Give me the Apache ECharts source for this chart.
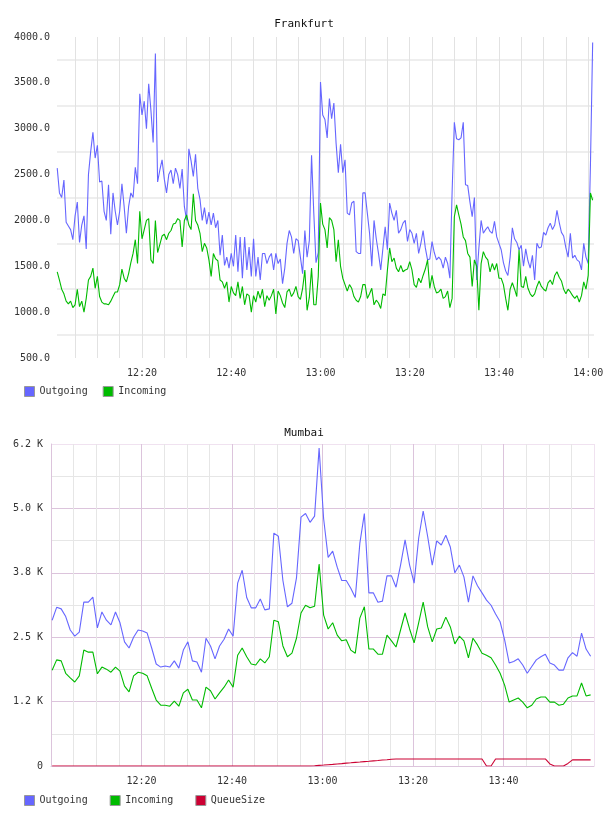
<!DOCTYPE html>
<html><head><meta charset="utf-8">
<script src="https://cdn.jsdelivr.net/npm/echarts@6/dist/echarts.min.js"></script>
<style>html,body{margin:0;padding:0;background:#fff}#c{width:608px;height:816px}</style>
</head><body><div id="c"></div>
<script>
// ---------- Frankfurt (minutes after 12:00) ----------
const fraStart = 1, fraStep = 0.5;
const fraOutgoing = [
2570,2300,2250,2440,1980,1940,1900,1790,2050,2200,
1760,1950,2050,1690,2500,2750,2960,2680,2820,2420,
2430,2100,2000,2390,1850,2300,2100,1950,2100,2400,
2150,1860,2150,2300,2250,2580,2400,3380,3150,3300,
3000,3490,3200,2850,3820,2420,2550,2660,2450,2300,
2500,2550,2400,2570,2500,2350,2560,2150,2000,2780,
2650,2480,2720,2350,2230,2000,2140,1960,2090,1950,
2080,1920,2000,1620,1840,1510,1600,1480,1640,1500,
1840,1440,1820,1370,1820,1460,1710,1390,1800,1390,
1600,1350,1640,1640,1530,1600,1640,1460,1640,1530,
1580,1310,1480,1750,1890,1820,1640,1800,1780,1600,
1420,1890,1600,1780,2710,2080,1540,1650,3510,3150,
3100,2900,3330,3110,3280,2840,2520,2830,2520,2660,
2080,2060,2190,2210,1660,1640,1640,2300,2300,2080,
1860,1500,2000,1800,1640,1460,1700,1930,1680,2190,
2080,2000,2110,1860,1900,1970,2000,1770,1900,1860,
1750,1860,1640,1750,1890,1700,1570,1580,1770,1650,
1570,1600,1570,1480,1600,1530,1370,2310,3070,2890,
2880,2900,3070,2390,2380,2200,2040,2250,1350,1700,
2000,1860,1900,1930,1880,1860,1990,1820,1750,1680,
1540,1450,1400,1600,1920,1800,1760,1680,1730,1500,
1690,1560,1480,1620,1350,1750,1700,1710,1870,1840,
1920,1970,1900,1950,2110,1980,1870,1830,1700,1600,
1860,1590,1620,1570,1550,1460,1750,1600,1530,2600,
3940];
const fraIncoming = [
1440,1350,1250,1200,1120,1090,1120,1050,1080,1250,
1060,1120,1000,1150,1350,1390,1480,1260,1390,1170,
1110,1090,1090,1080,1120,1170,1220,1220,1300,1470,
1370,1330,1420,1540,1640,1790,1530,2100,1800,1900,
2000,2020,1570,1530,2000,1650,1740,1830,1850,1790,
1860,1890,1960,1970,2020,2000,1710,2000,2060,1950,
1900,2290,2000,1950,1860,1660,1750,1700,1570,1390,
1640,1580,1560,1350,1330,1260,1330,1110,1280,1210,
1180,1330,1150,1280,1080,1200,1180,1000,1180,1110,
1230,1150,1250,1060,1180,1130,1180,1250,980,1230,
1180,1100,1050,1220,1250,1170,1210,1280,1170,1140,
1260,1460,1020,1160,1480,1080,1080,1390,2190,1960,
1900,1700,2030,2000,1900,1550,1790,1500,1370,1300,
1230,1300,1260,1170,1130,1110,1170,1300,1300,1150,
1200,1260,1080,1130,1100,1040,1200,1180,1460,1700,
1550,1590,1480,1440,1510,1440,1460,1470,1550,1460,
1300,1270,1370,1320,1400,1470,1570,1260,1400,1280,
1210,1220,1250,1150,1170,1230,1050,1150,2040,2170,
2060,1960,1820,1780,1640,1600,1280,1570,1500,1020,
1530,1660,1600,1570,1440,1530,1460,1530,1370,1370,
1300,1150,1020,1250,1320,1250,1170,1680,1280,1270,
1390,1260,1200,1170,1200,1280,1340,1280,1250,1230,
1320,1350,1300,1400,1440,1380,1340,1250,1200,1250,
1220,1180,1150,1180,1110,1180,1330,1250,1400,2300,
2220];
const fraYTicks = [500,1000,1500,2000,2500,3000,3500,4000];
const fraYLabels = ['500.0','1000.0','1500.0','2000.0','2500.0','3000.0','3500.0','4000.0'];
const fraXTicks = [20,40,60,80,100,120];
const fraXLabels = ['12:20','12:40','13:00','13:20','13:40','14:00'];
const fraGridMinutes = [5,10,15,20,25,30,35,40,45,50,55,60,65,70,75,80,85,90,95,100,105,110,115,120];

// ---------- Mumbai (minutes after 12:00) ----------
const mumStart = 0.25, mumStep = 1;
const mumOutgoing = [
2830,3080,3050,2900,2640,2520,2600,3180,3180,3280,
2680,2990,2830,2740,2990,2780,2410,2290,2500,2640,
2620,2580,2290,1980,1920,1940,1920,2040,1900,2250,
2410,2040,2020,1820,2480,2330,2080,2330,2460,2660,
2520,3550,3800,3270,3070,3070,3240,3030,3050,4520,
4460,3600,3090,3160,3650,4830,4900,4730,4850,6170,
4800,4050,4170,3860,3600,3600,3450,3270,4320,4900,
3360,3360,3180,3200,3690,3690,3470,3900,4390,3900,
3550,4420,4950,4450,3900,4370,4290,4480,4250,3750,
3900,3670,3180,3690,3500,3360,3220,3120,2950,2800,
2450,2000,2030,2080,1960,1800,1930,2060,2120,2170,
2000,1960,1860,1860,2100,2200,2130,2580,2270,2130];
const mumIncoming = [
1860,2060,2040,1800,1710,1630,1750,2250,2210,2210,
1790,1920,1880,1820,1920,1840,1550,1440,1750,1820,
1800,1750,1510,1280,1180,1180,1160,1260,1160,1420,
1490,1280,1280,1130,1530,1460,1300,1420,1530,1670,
1530,2150,2290,2120,1980,1960,2080,2000,2120,2830,
2800,2330,2120,2190,2480,2970,3120,3070,3100,3920,
2930,2660,2780,2540,2430,2450,2250,2190,2870,3090,
2270,2270,2170,2170,2540,2430,2310,2640,2970,2660,
2390,2780,3180,2700,2410,2660,2680,2890,2700,2370,
2520,2430,2100,2480,2350,2190,2150,2100,1960,1800,
1570,1240,1280,1320,1240,1130,1180,1300,1340,1340,
1240,1240,1180,1200,1320,1360,1360,1610,1360,1380];
const mumQueue = [
0,0,0,0,0,0,0,0,0,0,
0,0,0,0,0,0,0,0,0,0,
0,0,0,0,0,0,0,0,0,0,
0,0,0,0,0,0,0,0,0,0,
0,0,0,0,0,0,0,0,0,0,
0,0,0,0,0,0,0,0,5,12,
18,25,32,40,47,55,62,70,77,85,
92,100,107,115,122,130,135,136,136,136,
136,136,136,136,136,136,136,136,136,136,
136,136,136,136,136,136,0,0,136,136,
136,136,136,136,136,136,136,136,136,136,
40,0,0,0,50,118,118,118,118,118];
const mumYTicks = [0,1250,2500,3750,5000,6250];
const mumYLabels = ['0','1.2 K','2.5 K','3.8 K','5.0 K','6.2 K'];
const mumXTicks = [20,40,60,80,100];
const mumXLabels = ['12:20','12:40','13:00','13:20','13:40'];

// ---------- build ----------
const FONT = 'DejaVu Sans Mono';
const TXT = '#333';
const C_OUT = '#6666ff', C_IN = '#00bb00', C_Q = '#cc0033';
const pairs = (start, step, vals) => vals.map((v, i) => [start + step * i, v]);
const lab = (ticks, labels) => v => {
  const k = ticks.findIndex(t => Math.abs(t - v) < 1e-6);
  return k < 0 ? '' : labels[k];
};
const axisFont = {fontFamily: FONT, fontSize: 10, color: TXT};

// split line colour cycles (major / minor)
const MAJ = '#dcc4dc', MIN = '#e6e6e6', EDGE = '#f0e2f0';
const mumXSplit = [];
for (let i = 0; i <= 24; i++) mumXSplit.push(i === 24 ? EDGE : (i % 4 === 0 ? MAJ : MIN));
const mumYSplit = [];
for (let i = 0; i <= 10; i++) mumYSplit.push(i === 10 ? EDGE : (i % 2 === 0 ? MAJ : MIN));

const lineS = (name, color, xi, data) => ({
  name, type: 'line', xAxisIndex: xi, yAxisIndex: xi, data,
  showSymbol: false, symbol: 'none', silent: true,
  lineStyle: {color, width: 1.1}, itemStyle: {color}, z: 10
});

const legendBase = {
  left: 24, itemWidth: 10, itemHeight: 10, icon: 'rect', padding: 0,
  selectedMode: false,
  itemStyle: {borderColor: '#999', borderWidth: 1},
  textStyle: {fontFamily: FONT, fontSize: 10, color: TXT}
};

const option = {
  animation: false,
  backgroundColor: '#fff',
  title: [
    {text: 'Frankfurt', left: 'center', top: 14,
     textStyle: {fontFamily: FONT, fontSize: 11, fontWeight: 'normal', color: '#111'}},
    {text: 'Mumbai', left: 'center', top: 423,
     textStyle: {fontFamily: FONT, fontSize: 11, fontWeight: 'normal', color: '#111'}}
  ],
  legend: [
    Object.assign({}, legendBase, {data: ['Outgoing', 'Incoming'], top: 386, itemGap: 15}),
    Object.assign({}, legendBase, {data: ['Outgoing', 'Incoming', 'QueueSize'], top: 795, itemGap: 22})
  ],
  grid: [
    {left: 57, right: 14, top: 37, height: 321},
    {left: 51, right: 14, top: 444, height: 322}
  ],
  xAxis: [
    {type: 'value', gridIndex: 0, min: 0.95, max: 121.3,
     splitLine: {show: false}, axisLine: {show: false}, axisTick: {show: false},
     axisLabel: Object.assign({customValues: fraXTicks, formatter: lab(fraXTicks, fraXLabels), margin: 10}, axisFont)},
    {type: 'value', gridIndex: 1, min: 0, max: 120, interval: 5,
     splitLine: {show: true, lineStyle: {color: mumXSplit, width: 1}},
     axisLine: {show: true, lineStyle: {color: MAJ, width: 1}}, axisTick: {show: false},
     axisLabel: Object.assign({formatter: lab(mumXTicks, mumXLabels), margin: 10}, axisFont)}
  ],
  yAxis: [
    {type: 'value', gridIndex: 0, min: 500, max: 4000, interval: 250,
     splitLine: {show: true, lineStyle: {color: ['rgba(0,0,0,0)', '#eeeeee'], width: 2}},
     axisLine: {show: false}, axisTick: {show: false},
     axisLabel: Object.assign({formatter: lab(fraYTicks, fraYLabels), margin: 7}, axisFont)},
    {type: 'value', gridIndex: 1, min: 0, max: 6250, interval: 625,
     splitLine: {show: true, lineStyle: {color: mumYSplit, width: 1}},
     axisLine: {show: true, lineStyle: {color: MAJ, width: 1}}, axisTick: {show: false},
     axisLabel: Object.assign({formatter: lab(mumYTicks, mumYLabels), margin: 8}, axisFont)}
  ],
  series: [
    {name: 'vgrid', type: 'line', xAxisIndex: 0, yAxisIndex: 0, data: [], silent: true, z: 1,
     markLine: {silent: true, z: 1, symbol: ['none', 'none'], label: {show: false}, animation: false,
       lineStyle: {color: '#e2e2e2', width: 1, type: 'solid'},
       data: fraGridMinutes.map(m => ({xAxis: m}))}},
    lineS('Outgoing', C_OUT, 0, pairs(fraStart, fraStep, fraOutgoing)),
    lineS('Incoming', C_IN, 0, pairs(fraStart, fraStep, fraIncoming)),
    lineS('Outgoing', C_OUT, 1, pairs(mumStart, mumStep, mumOutgoing)),
    lineS('Incoming', C_IN, 1, pairs(mumStart, mumStep, mumIncoming)),
    lineS('QueueSize', C_Q, 1, pairs(mumStart, mumStep, mumQueue))
  ]
};
const chart = echarts.init(document.getElementById('c'), null, {renderer: 'canvas'});
chart.setOption(option);
</script></body></html>
